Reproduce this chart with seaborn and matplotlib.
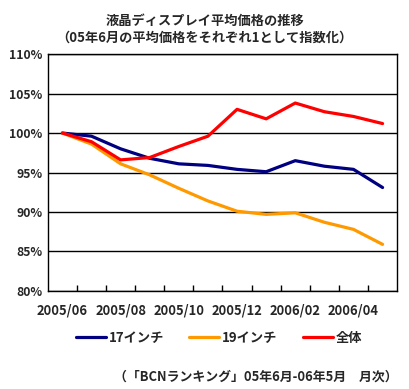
import pandas as pd
import matplotlib.pyplot as plt
import seaborn as sns

months = ["2005/06", "2005/07", "2005/08", "2005/09", "2005/10", "2005/11",
          "2005/12", "2006/01", "2006/02", "2006/03", "2006/04", "2006/05"]
v17 = [100, 99.6, 98.0, 96.8, 96.1, 95.9, 95.4, 95.1, 96.5, 95.8, 95.4, 93.1]
v19 = [100, 98.6, 96.1, 94.7, 93.0, 91.4, 90.1, 89.7, 89.9, 88.7, 87.8, 85.9]
vall = [100, 98.9, 96.6, 96.9, 98.3, 99.6, 103.0, 101.8, 103.8, 102.7, 102.1, 101.2]
series = ["17インチ", "19インチ", "全体"]
colors = ["#000080", "#FF9900", "#FF0000"]

rows = []
for name, vals in zip(series, [v17, v19, vall]):
    for i, v in enumerate(vals):
        rows.append({"idx": i, "月": months[i], "値": v, "系列": name})
df = pd.DataFrame(rows)

sns.set_style("white")
plt.rcParams["font.family"] = ["Noto Sans CJK JP", "DejaVu Sans"]
plt.rcParams["font.weight"] = "bold"

fig = plt.figure(figsize=(4.09, 3.89), dpi=100)
ax = fig.add_axes([0.117, 0.252, 0.854, 0.609])

sns.lineplot(data=df, x="idx", y="値", hue="系列", palette=colors,
             linewidth=2.3, ax=ax, legend=False)

ax.set_xlim(-0.5, 11.5)
ax.set_ylim(80, 110)
ax.set_yticks(range(80, 111, 5))
ax.set_yticklabels([f"{v}%" for v in range(80, 111, 5)], fontsize=8.8, fontweight="bold")
ax.set_xticks(range(0, 12, 2))
ax.set_xticklabels(months[::2], fontsize=9.3, fontweight="bold")
ax.set_xticks([i + 0.5 for i in range(11)], minor=True)
ax.tick_params(axis="x", which="major", length=0, pad=9)
ax.tick_params(axis="x", which="minor", direction="in", length=4, width=1, color="black", bottom=True)
ax.tick_params(axis="y", length=0, pad=4)
ax.yaxis.grid(True, color="black", linewidth=1)
ax.set_xlabel("")
ax.set_ylabel("")
for s in ax.spines.values():
    s.set_color("black")
    s.set_linewidth(1)

fig.text(0.5, 0.945, "液晶ディスプレイ平均価格の推移", ha="center", va="center",
         fontsize=9.5, fontweight="bold")
fig.text(0.5, 0.902, "（05年6月の平均価格をそれぞれ1として指数化）", ha="center", va="center",
         fontsize=9.5, fontweight="bold")

handles = [plt.Line2D([], [], color=c, linewidth=2.3) for c in colors]
fig.legend(handles, series, loc="center", bbox_to_anchor=(0.535, 0.131), ncol=3,
           frameon=False, handlelength=2.3, handletextpad=0.2,
           columnspacing=1.9, prop={"weight": "bold", "size": 9.5})

fig.text(0.972, 0.031, "（「BCNランキング」05年6月-06年5月　月次）", ha="right", va="center",
         fontsize=9.3, fontweight="bold")

fig.savefig("out.png", dpi=100)
